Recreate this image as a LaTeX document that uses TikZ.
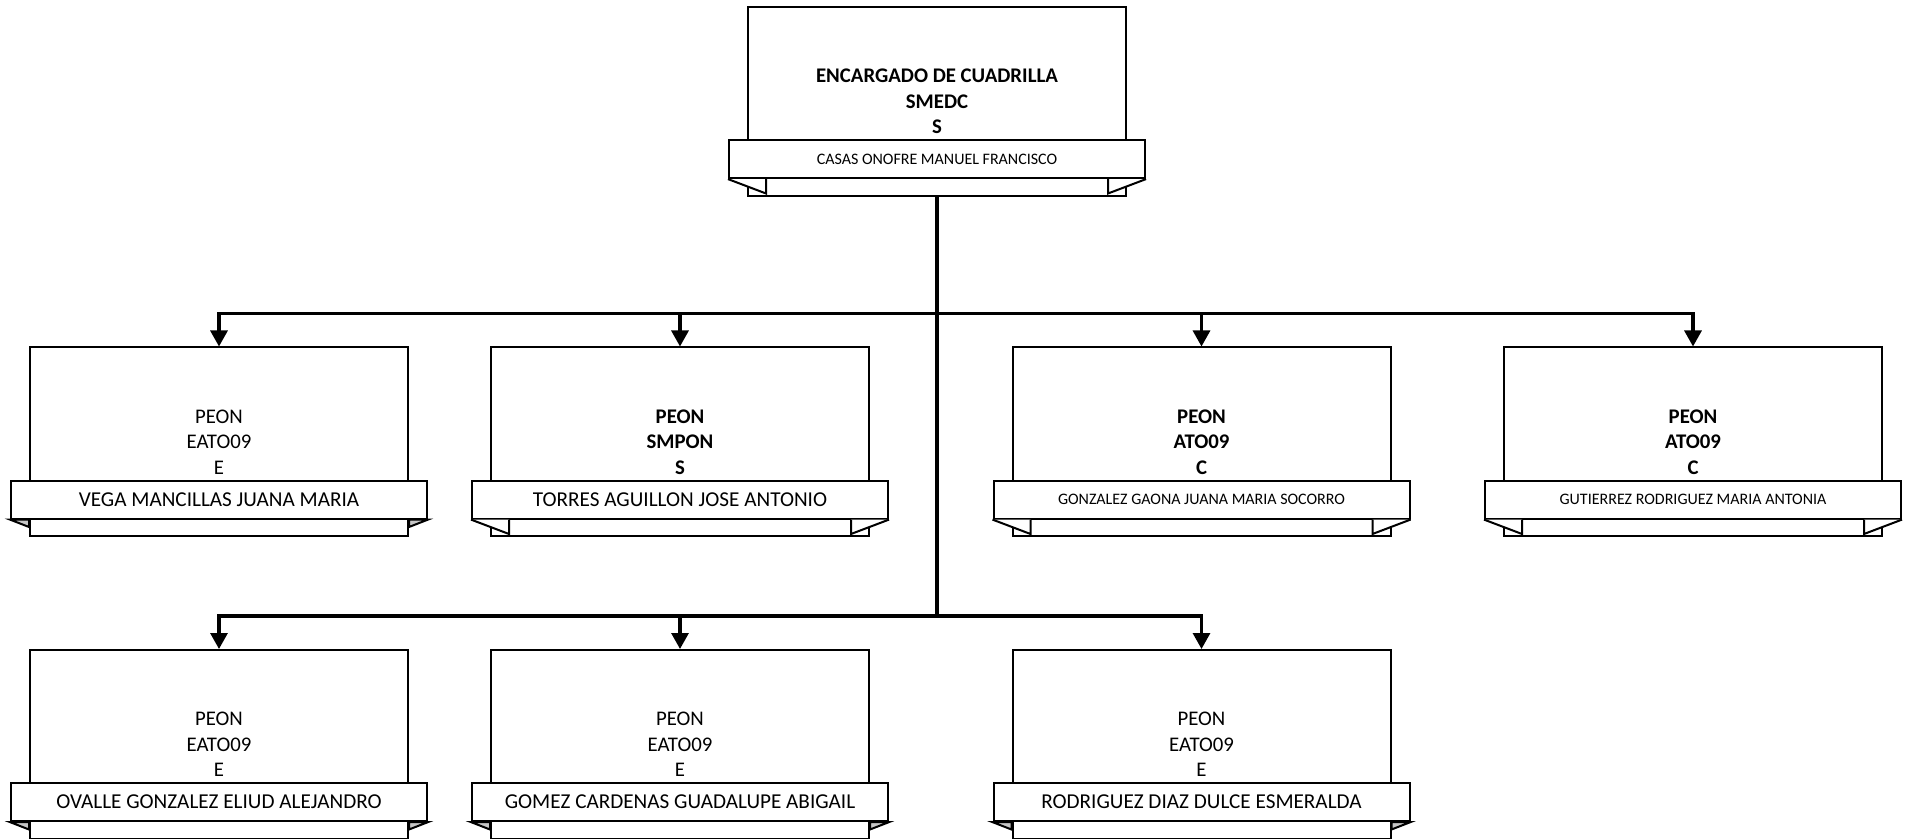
\documentclass[tikz,border=0pt]{standalone}
\usepackage{fontspec}
\setmainfont{Carlito}
\usetikzlibrary{arrows.meta,positioning}
\tikzset{
  every picture/.style={font=\fontsize{10.4}{12.75}\selectfont},
  org box/.style={draw=black, line width=1pt, fill=white, align=center,
    minimum width=189pt, minimum height=94.5pt, inner sep=0pt},
  org bold/.style={font=\fontsize{10.4}{12.75}\selectfont\bfseries},
  org banner/.style={draw=black, line width=1pt, fill=white,
    minimum width=208pt, minimum height=19pt, inner sep=0pt,
    font=\fontsize{10.6}{12}\selectfont},
  org small/.style={font=\fontsize{8}{9}\selectfont},
  org fold soft/.style={draw=black, line width=1pt, fill=gray!45},
  org fold long/.style={draw=black, line width=1pt, fill=white},
  org link/.style={draw=black, line width=1.55pt, line cap=rect},
  org arrow/.style={-{Triangle[length=8pt,width=8.5pt]},
    draw=black, line width=1.55pt}
}
\begin{document}
\begin{tikzpicture}[x=0.5pt,y=-0.5pt]
  \useasboundingbox (0,0) rectangle (1907,839);
  % jefe de cuadrilla
  \node[org box, org bold] (jefe) at (937,101.5)
    {ENCARGADO DE CUADRILLA\\SMEDC\\S};
  % primera fila
  \node[org box] (vega) at (219,442) {PEON\\EATO09\\E};
  \node[org box, org bold] (torres) at (680,442) {PEON\\SMPON\\S};
  \node[org box, org bold] (gonzalez) at (1201.5,442) {PEON\\ATO09\\C};
  \node[org box, org bold] (gutierrez) at (1693,442) {PEON\\ATO09\\C};
  % segunda fila
  \node[org box] (ovalle) at (219,744.5) {PEON\\EATO09\\E};
  \node[org box] (gomez) at (680,744.5) {PEON\\EATO09\\E};
  \node[org box] (rodriguez) at (1201.5,744.5) {PEON\\EATO09\\E};
  % nombres
  \node[org banner, org small] (jefe-nom) at ([yshift=-28.8pt]jefe.center)
    {CASAS ONOFRE MANUEL FRANCISCO};
  \node[org banner] (vega-nom) at ([yshift=-28.8pt]vega.center)
    {VEGA MANCILLAS JUANA MARIA};
  \node[org banner] (torres-nom) at ([yshift=-28.8pt]torres.center)
    {TORRES AGUILLON JOSE ANTONIO};
  \node[org banner, org small] (gonzalez-nom) at ([yshift=-28.8pt]gonzalez.center)
    {GONZALEZ GAONA JUANA MARIA SOCORRO};
  \node[org banner, org small] (gutierrez-nom) at ([yshift=-28.8pt]gutierrez.center)
    {GUTIERREZ RODRIGUEZ MARIA ANTONIA};
  \node[org banner] (ovalle-nom) at ([yshift=-28.8pt]ovalle.center)
    {OVALLE GONZALEZ ELIUD ALEJANDRO};
  \node[org banner] (gomez-nom) at ([yshift=-28.8pt]gomez.center)
    {GOMEZ CARDENAS GUADALUPE ABIGAIL};
  \node[org banner] (rodriguez-nom) at ([yshift=-28.8pt]rodriguez.center)
    {RODRIGUEZ DIAZ DULCE ESMERALDA};
  % pliegues
  \foreach \p in {vega,ovalle,gomez,rodriguez}{
    \filldraw[org fold soft] (\p-nom.south west)
      -- ([yshift=-3.7pt]\p-nom.south west -| \p.west)
      -- (\p-nom.south west -| \p.west) -- cycle;
    \filldraw[org fold soft] (\p-nom.south east)
      -- ([yshift=-3.7pt]\p-nom.south east -| \p.east)
      -- (\p-nom.south east -| \p.east) -- cycle;
  }
  \foreach \p in {jefe,torres,gonzalez,gutierrez}{
    \draw[org fold long] (\p-nom.south west) -- ++(19pt,-7.2pt) -- ++(0,7.2pt);
    \draw[org fold long] (\p-nom.south east) -- ++(-19pt,-7.2pt) -- ++(0,7.2pt);
  }
  % conectores
  \coordinate (bus top) at (937,313.5);
  \coordinate (bus low) at (937,616);
  \draw[org link] (jefe.south) -- (bus low);
  \draw[org link] (vega.north |- bus top) -- (gutierrez.north |- bus top);
  \draw[org link] (ovalle.north |- bus low) -- (rodriguez.north |- bus low);
  \foreach \p in {vega,torres,gonzalez,gutierrez}
    \draw[org arrow] (\p.north |- bus top) -- (\p.north);
  \foreach \p in {ovalle,gomez,rodriguez}
    \draw[org arrow] (\p.north |- bus low) -- (\p.north);
\end{tikzpicture}
\end{document}
